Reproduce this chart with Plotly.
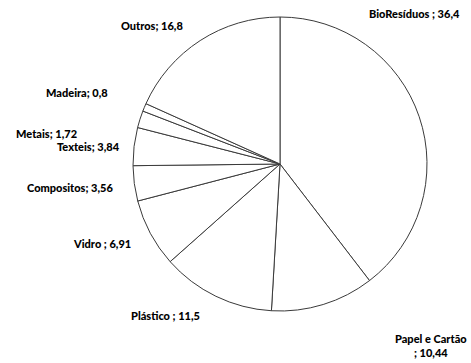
import plotly.graph_objects as go

# Waste composition (%), listed clockwise from 12 o'clock
categories = ["BioResíduos", "Papel e Cartão", "Plástico", "Vidro", "Compositos",
              "Texteis", "Metais", "Madeira", "Outros"]
values = [36.4, 10.44, 11.5, 6.91, 3.56, 3.84, 1.72, 0.8, 16.8]
separators = [" ; ", "<br>; ", " ; ", " ; ", "; ", "; ", "; ", "; ", "; "]

W, H = 471, 363

# label anchor points in pixels (centre of each text block)
label_px = [(414, 14), (431, 345), (165, 315), (102, 243), (70, 187),
            (88, 146), (46, 133), (77, 92), (152, 25)]

fig = go.Figure(go.Pie(
    labels=categories,
    values=values,
    sort=False,
    direction="clockwise",
    rotation=0,
    textinfo="none",
    hoverinfo="label+value",
    marker=dict(colors=["white"] * len(values),
                line=dict(color="#3a3a3a", width=1)),
    domain=dict(x=[133 / W, 427 / W], y=[1 - 311 / H, 1 - 17 / H]),
    showlegend=False,
))

for name, sep, val, (px, py) in zip(categories, separators, values, label_px):
    txt = f"{name}{sep}{str(val).replace('.', ',')}"
    fig.add_annotation(
        x=px / W, y=1 - py / H, xref="paper", yref="paper",
        text=txt, showarrow=False, align="center",
        xanchor="center", yanchor="middle",
        font=dict(family="Lato", size=11, color="black", weight=900),
    )

fig.update_layout(
    width=W, height=H,
    margin=dict(l=0, r=0, t=0, b=0),
    paper_bgcolor="white",
    plot_bgcolor="white",
)

fig.write_html("out.html")
